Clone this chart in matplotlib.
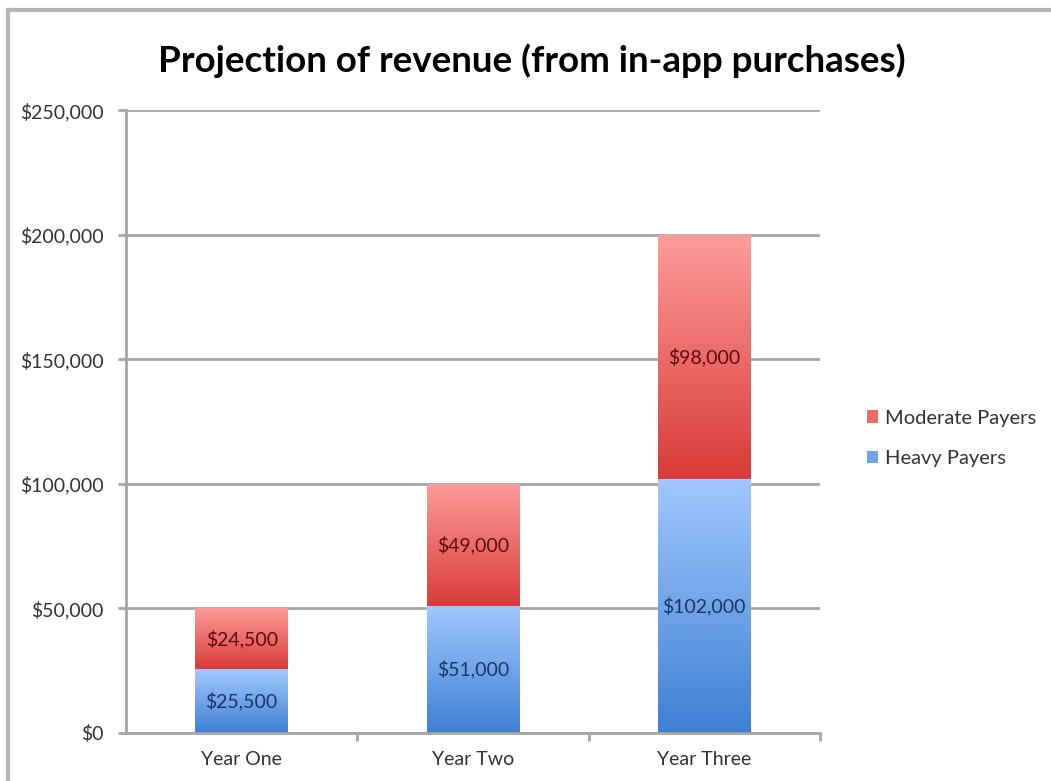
import matplotlib.pyplot as plt
import numpy as np
from matplotlib.colors import LinearSegmentedColormap
from matplotlib.lines import Line2D
from matplotlib.patches import Patch
from matplotlib.ticker import FuncFormatter, FixedLocator

plt.rcParams['font.family'] = ['Lato', 'DejaVu Sans']

years = ['Year One', 'Year Two', 'Year Three']
heavy = [25500, 51000, 102000]
moderate = [24500, 49000, 98000]

# light at the top of each segment, darker at the bottom
red_cmap = LinearSegmentedColormap.from_list('red_grad', ['#d93a37', '#fd9d9a'])
blue_cmap = LinearSegmentedColormap.from_list('blue_grad', ['#3f7fd4', '#a2c9ff'])

fig = plt.figure(figsize=(10.51, 7.81), dpi=100)
ax = fig.add_axes([0.12, 0.0615, 0.66, 0.7975])

x = np.arange(len(years))
width = 0.4

bars_heavy = ax.bar(x, heavy, width, color='#6fa2e8', label='Heavy Payers', zorder=2)
bars_mod = ax.bar(x, moderate, width, bottom=heavy, color='#ee6a66',
                  label='Moderate Payers', zorder=2)

grad = np.linspace(0, 1, 256).reshape(-1, 1)

def shade(bars, cmap):
    for bar in bars:
        x0, y0 = bar.get_x(), bar.get_y()
        w, h = bar.get_width(), bar.get_height()
        im = ax.imshow(grad, cmap=cmap, origin='lower', aspect='auto',
                       extent=(x0, x0 + w, y0, y0 + h), zorder=2.5)
        im.set_clip_path(bar)

shade(bars_heavy, blue_cmap)
shade(bars_mod, red_cmap)

def money(v, pos=None):
    return '${:,.0f}'.format(v)

for bar, v in zip(bars_heavy, heavy):
    ax.text(bar.get_x() + bar.get_width() / 2, bar.get_y() + bar.get_height() / 2,
            money(v), ha='center', va='center', fontsize=14, color='#1c3563', zorder=4)
for bar, v in zip(bars_mod, moderate):
    ax.text(bar.get_x() + bar.get_width() / 2, bar.get_y() + bar.get_height() / 2,
            money(v), ha='center', va='center', fontsize=14, color='#5a0c0c', zorder=4)

ax.set_xlim(-0.5, 2.5)
ax.set_ylim(0, 250000)
ax.set_yticks(np.arange(0, 250001, 50000))
ax.yaxis.set_major_formatter(FuncFormatter(money))
ax.set_xticks(x)
ax.set_xticklabels(years)
ax.xaxis.set_minor_locator(FixedLocator([0.5, 1.5, 2.5]))
ax.tick_params(axis='x', which='major', length=0, pad=13, labelsize=14, labelcolor='#333333')
ax.tick_params(axis='x', which='minor', length=6, width=2, color='#a6a6a6', direction='out')
ax.tick_params(axis='y', length=6, width=2, color='#a6a6a6', pad=10,
               labelsize=14, labelcolor='#333333')

ax.grid(axis='y', color='#a6a6a6', linewidth=2, zorder=0)
ax.set_axisbelow(True)
for side in ['top', 'right']:
    ax.spines[side].set_visible(False)
for side in ['left', 'bottom']:
    ax.spines[side].set_color('#a6a6a6')
    ax.spines[side].set_linewidth(2)

fig.text(0.506, 0.922, 'Projection of revenue (from in-app purchases)',
         ha='center', va='center', fontsize=26.5, fontweight='bold', color='#000000')

handles = [Patch(facecolor='#ee6a66', label='Moderate Payers'),
           Patch(facecolor='#6fa2e8', label='Heavy Payers')]
fig.legend(handles=handles, loc='center left', bbox_to_anchor=(0.808, 0.439),
           frameon=False, fontsize=14.5, handlelength=0.55, handleheight=0.55,
           handletextpad=0.35, labelspacing=1.15, labelcolor='#333333')

# outer chart frame (top and left edges)
fig.add_artist(Line2D([0.008, 1.0], [0.987, 0.987], color='#b5b5b5', linewidth=3,
                      transform=fig.transFigure))
fig.add_artist(Line2D([0.008, 0.008], [0.0, 0.987], color='#b5b5b5', linewidth=3,
                      transform=fig.transFigure))

fig.savefig('out.png', dpi=100)
